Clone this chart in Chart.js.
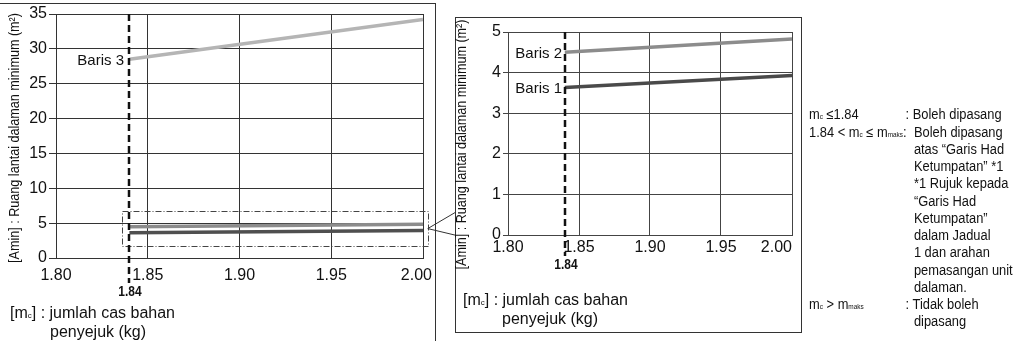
<!DOCTYPE html>
<html>
<head>
<meta charset="utf-8">
<script src="https://cdn.jsdelivr.net/npm/chart.js@4.4.1/dist/chart.umd.min.js"></script>
<style>
body{margin:0;background:#fff;width:1021px;height:341px;overflow:hidden;position:relative;font-family:"Liberation Sans",Arial,sans-serif;color:#111}
.frame{position:absolute;border:1px solid #333;box-sizing:border-box}
canvas{position:absolute}
.xt{position:absolute;font-size:16px;line-height:16px;white-space:nowrap}
.xt .s{font-size:8px}
.notes{position:absolute;left:809px;top:0;transform:scaleX(0.92);transform-origin:0 0}
.note{position:absolute;font-size:14px;line-height:17px;white-space:nowrap}
.note .s{font-size:7px}
</style>
</head>
<body>
<div class="frame" style="left:-2px;top:3px;width:438px;height:400px"></div>
<div class="frame" style="left:455px;top:17px;width:347px;height:316px"></div>
<canvas id="leftChart" width="435" height="341" style="left:0;top:0"></canvas>
<canvas id="rightChart" width="346" height="315" style="left:455px;top:17px"></canvas>
<canvas id="links" width="1021" height="341" style="left:0;top:0;pointer-events:none"></canvas>

<div class="xt" style="left:10px;top:305px">[m<span class="s">c</span>] : jumlah cas bahan<br><span style="padding-left:40px">penyejuk (kg)</span></div>
<div class="xt" style="left:463px;top:292px">[m<span class="s">c</span>] : jumlah cas bahan<br><span style="padding-left:39px">penyejuk (kg)</span></div>

<div class="notes">
<div class="note" style="left:0;top:106px">m<span class="s">c</span> ≤1.84</div>
<div class="note" style="left:105px;top:106px">: Boleh dipasang</div>
<div class="note" style="left:0;top:124px">1.84 &lt; m<span class="s">c</span> ≤ m<span class="s">maks</span>:</div>
<div class="note" style="left:114px;top:124px">Boleh dipasang</div>
<div class="note" style="left:114px;top:141px">atas “Garis Had</div>
<div class="note" style="left:114px;top:158px">Ketumpatan” *1</div>
<div class="note" style="left:114px;top:175px">*1 Rujuk kepada</div>
<div class="note" style="left:114px;top:193px">“Garis Had</div>
<div class="note" style="left:114px;top:210px">Ketumpatan”</div>
<div class="note" style="left:114px;top:227px">dalam Jadual</div>
<div class="note" style="left:114px;top:244px">1 dan arahan</div>
<div class="note" style="left:114px;top:262px">pemasangan unit</div>
<div class="note" style="left:114px;top:279px">dalaman.</div>
<div class="note" style="left:0;top:296px">m<span class="s">c</span> &gt; m<span class="s">maks</span></div>
<div class="note" style="left:105px;top:296px">: Tidak boleh</div>
<div class="note" style="left:114px;top:313px">dipasang</div>
</div>

<script>
// data
const mcValues = [1.84, 2.00];
const baris1 = [3.63, 3.93];
const baris2 = [4.50, 4.83];
const baris3 = [28.5, 34.2];
const limitMc = 1.84;
const xTicks = [1.80, 1.85, 1.90, 1.95, 2.00];
const yTicksMain = [0, 5, 10, 15, 20, 25, 30, 35];
const yTicksZoom = [0, 1, 2, 3, 4, 5];
const zoomBoxX = [1.8358, 2.0026];
const zoomBoxY = [1.68, 6.76];

const FONT = "'Liberation Sans', Arial, sans-serif";
const yTitle = '[Amin] : Ruang lantai dalaman minimum (m²)';

function pts(ys){ return mcValues.map((x,i)=>({x:x,y:ys[i]})); }

function narrowText(ctx, txt, x, y, font, sx, align, rot){
    ctx.save();
    ctx.translate(x, y);
    if (rot) ctx.rotate(rot);
    ctx.scale(sx, 1);
    ctx.font = font;
    ctx.textAlign = align;
    ctx.textBaseline = 'middle';
    ctx.fillStyle = '#111';
    ctx.fillText(txt, 0, 0);
    ctx.restore();
}

const overlay = {
    id: 'overlay',
    afterDatasetsDraw(chart, args, o){
        const ctx = chart.ctx, a = chart.chartArea;
        const x = chart.scales.x, y = chart.scales.y;
        ctx.save();
        // x tick labels, last one kept inside the frame
        ctx.font = '16px ' + FONT;
        ctx.fillStyle = '#111';
        ctx.textBaseline = 'middle';
        x.ticks.forEach(t => {
            const txt = t.value.toFixed(2);
            const w = ctx.measureText(txt).width;
            let cx = x.getPixelForValue(t.value);
            cx = Math.min(cx, a.right + o.lastOver - w/2);
            ctx.textAlign = 'center';
            ctx.fillText(txt, cx, a.bottom + o.xLabelY);
        });
        if (o.box) {
            ctx.strokeStyle = '#444';
            ctx.lineWidth = 1;
            ctx.setLineDash([6,2,1,2]);
            const x0 = x.getPixelForValue(zoomBoxX[0]), x1 = x.getPixelForValue(zoomBoxX[1]);
            const y0 = y.getPixelForValue(zoomBoxY[1]), y1 = y.getPixelForValue(zoomBoxY[0]);
            ctx.strokeRect(Math.round(x0)+0.5, Math.round(y0)+0.5, Math.round(x1-x0), Math.round(y1-y0));
        }
        const lx = Math.round(x.getPixelForValue(limitMc));
        ctx.strokeStyle = '#111';
        ctx.lineWidth = 2.5;
        ctx.setLineDash([7,4]);
        ctx.beginPath();
        ctx.moveTo(lx, a.top);
        ctx.lineTo(lx, a.bottom + o.dashBelow);
        ctx.stroke();
        ctx.setLineDash([]);
        narrowText(ctx, limitMc.toFixed(2), lx + 1, a.bottom + o.limitY, 'bold 15px ' + FONT, 0.8, 'center');
        o.labels.forEach(i => {
            const ds = chart.data.datasets[i];
            const py = y.getPixelForValue(ds.data[0].y);
            ctx.font = '15px ' + FONT;
            ctx.fillStyle = '#111';
            ctx.textAlign = 'right';
            ctx.textBaseline = 'middle';
            ctx.fillText(ds.label, lx - o.labelGap, py + 1.5);
        });
        narrowText(ctx, yTitle, a.left + o.titleDx, (a.top + a.bottom)/2 + o.titleDy, '15px ' + FONT, 0.84, 'center', -Math.PI/2);
        ctx.restore();
    }
};

function makeChart(id, sets, cfg){
    return new Chart(document.getElementById(id), {
        type: 'line',
        data: { datasets: sets },
        options: {
            responsive: false,
            animation: false,
            layout: { padding: cfg.padding },
            elements: { point: { radius: 0 }, line: { borderWidth: 3.5, borderCapStyle: 'butt', tension: 0 } },
            plugins: { legend: { display: false }, tooltip: { enabled: false }, overlay: cfg.overlay },
            scales: {
                x: {
                    type: 'linear', min: 1.8, max: 2.0,
                    afterBuildTicks: s => { s.ticks = xTicks.map(v => ({value: v})); },
                    ticks: { display: false, autoSkip: false },
                    grid: { color: cfg.grid, drawTicks: false },
                    border: { color: cfg.grid },
                    afterFit: s => { s.height = cfg.xH; s.paddingLeft = 0; s.paddingRight = 0; }
                },
                y: {
                    min: 0, max: cfg.yMax,
                    afterBuildTicks: s => { s.ticks = cfg.yTicks.map(v => ({value: v})); },
                    ticks: { font: { size: 16, family: FONT }, color: '#111', padding: 2, autoSkip: false },
                    grid: { color: cfg.grid, tickLength: cfg.tick },
                    border: { color: cfg.grid },
                    afterFit: s => { s.width = cfg.yW; s.paddingTop = 0; s.paddingBottom = 0; }
                }
            }
        },
        plugins: [overlay]
    });
}

const leftChart = makeChart('leftChart', [
    { label: 'Baris 3', data: pts(baris3), borderColor: '#b5b5b5' },
    { label: 'Baris 2', data: pts(baris2), borderColor: '#8c8c8c' },
    { label: 'Baris 1', data: pts(baris1), borderColor: '#4f4f4f' }
], {
    padding: { top: 14, right: 12, left: 0, bottom: 0 },
    xH: 83, yW: 56, yMax: 35, yTicks: yTicksMain, tick: 7, grid: '#333',
    overlay: { box: true, xLabelY: 17.5, lastOver: 9, dashBelow: 25, limitY: 34, labels: [0], labelGap: 5, titleDx: -41, titleDy: 2 }
});

const rightChart = makeChart('rightChart', [
    { label: 'Baris 2', data: pts(baris2), borderColor: '#8c8c8c' },
    { label: 'Baris 1', data: pts(baris1), borderColor: '#4a4a4a' }
], {
    padding: { top: 15, right: 9, left: 0, bottom: 0 },
    xH: 97, yW: 53, yMax: 5, yTicks: yTicksZoom, tick: 5, grid: '#444',
    overlay: { box: false, xLabelY: 13, lastOver: 0, dashBelow: 21, limitY: 30, labels: [0, 1], labelGap: 3, titleDx: -46, titleDy: 11 }
});

// callout from the dash-dot box to the zoomed chart
const lctx = document.getElementById('links').getContext('2d');
const ax = leftChart.scales.x.getPixelForValue(zoomBoxX[1]);
const ay = leftChart.scales.y.getPixelForValue((zoomBoxY[0] + zoomBoxY[1]) / 2);
lctx.strokeStyle = '#333';
lctx.lineWidth = 1;
lctx.beginPath();
lctx.moveTo(455, ay - 16);
lctx.lineTo(ax, ay);
lctx.lineTo(455, ay + 6.5);
lctx.stroke();
</script>
</body>
</html>
